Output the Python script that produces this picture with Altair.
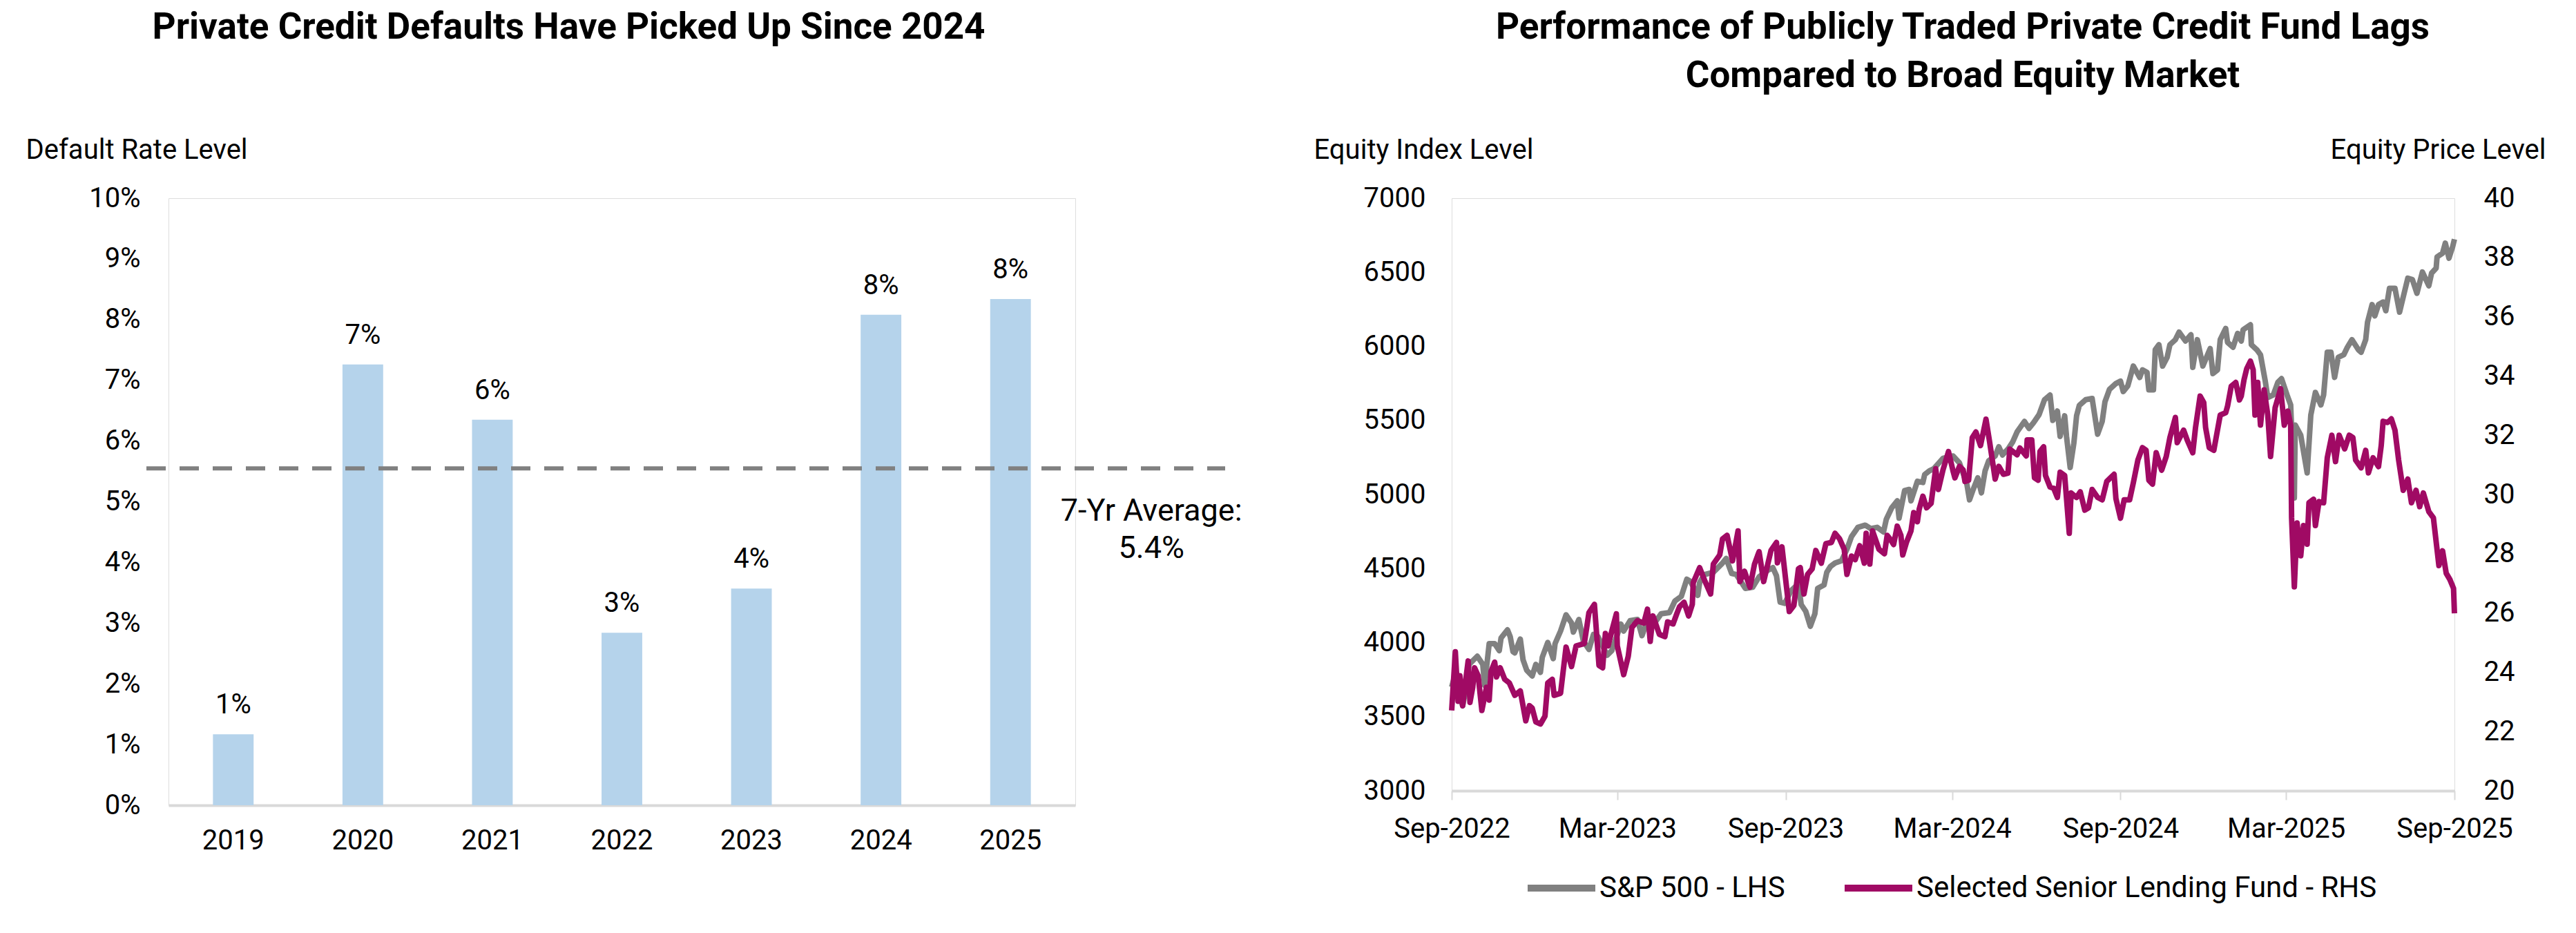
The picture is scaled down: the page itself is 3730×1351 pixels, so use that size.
import altair as alt
import pandas as pd

# ---------------- Left chart data ----------------
years = ["2019", "2020", "2021", "2022", "2023", "2024", "2025"]
default_rates = [1.17, 7.26, 6.35, 2.84, 3.57, 8.08, 8.34]
bar_labels = ["1%", "7%", "6%", "3%", "4%", "8%", "8%"]
avg_line_level = 5.55
avg_label = ["7-Yr Average:", "5.4%"]
rate_ticks = list(range(0, 11))

# ---------------- Right chart data ----------------
start_date = "2022-09-01"
sp_days = [0, 4, 8, 12, 16, 19, 28, 34, 36, 41, 47, 52, 54, 61, 64, 67, 69, 75, 78, 82, 88, 92, 97, 99,
           105, 111, 113, 119, 125, 131, 133, 139, 144, 150, 155, 160, 170, 175, 185, 188, 195, 203,
           208, 213, 220, 229, 238, 244, 251, 257, 261, 269, 271, 276, 286, 296, 300, 306, 311, 321,
           329, 336, 346, 351, 355, 359, 364, 371, 379, 382, 387, 392, 397, 400, 407, 410, 414, 419,
           426, 432, 437, 444, 452, 458, 465, 472, 475, 481, 487, 489, 495, 500, 502, 509, 515, 517,
           522, 527, 537, 548, 555, 563, 566, 570, 575, 579, 583, 587, 594, 598, 602, 608, 613, 618,
           626, 631, 636, 642, 648, 654, 657, 662, 665, 670, 672, 676, 680, 683, 686, 693, 700, 706,
           711, 714, 719, 726, 731, 734, 739, 745, 752, 755, 760, 762, 767, 769, 773, 777, 782, 785,
           791, 795, 802, 808, 810, 815, 821, 829, 832, 837, 840, 846, 848, 854, 859, 863, 865, 873,
           874, 880, 884, 889, 892, 898, 903, 907, 913, 917, 921, 922, 928, 935, 939, 944, 950, 953,
           957, 961, 965, 969, 975, 979, 984, 991, 994, 999, 1001, 1006, 1009, 1013, 1018, 1021, 1025,
           1031, 1036, 1040, 1045, 1050, 1055, 1061, 1068, 1071, 1076, 1077, 1083, 1086, 1090, 1094, 1096]
sp_values = [3700, 3790, 3650, 3573, 3700, 3853, 3908, 3853, 3713, 3993, 3993, 3946, 4032, 4086, 4040,
             3939, 3931, 4024, 3884, 3814, 3775, 3853, 3799, 3900, 4001, 3892, 3993, 4078, 4187, 4133,
             4071, 4156, 4009, 3954, 4055, 4040, 3915, 3946, 4125, 4078, 4148, 4156, 4047, 4133, 4117,
             4195, 4203, 4281, 4312, 4428, 4413, 4319, 4405, 4459, 4475, 4537, 4568, 4467, 4460, 4366,
             4374, 4444, 4490, 4506, 4451, 4273, 4265, 4351, 4397, 4257, 4211, 4110, 4195, 4366, 4389,
             4475, 4514, 4537, 4552, 4630, 4716, 4778, 4793, 4770, 4778, 4747, 4832, 4910, 4957, 4840,
             5026, 5034, 4957, 5089, 5081, 5135, 5159, 5174, 5244, 5260, 5213, 5073, 4964, 5034, 5112,
             5011, 5159, 5228, 5260, 5322, 5267, 5306, 5353, 5423, 5493, 5446, 5485, 5539, 5640, 5671,
             5500, 5563, 5392, 5531, 5392, 5182, 5345, 5531, 5601, 5640, 5648, 5407, 5493, 5625, 5710,
             5749, 5765, 5695, 5733, 5867, 5790, 5841, 5824, 5706, 5706, 5977, 6011, 5867, 5926, 6011,
             6045, 6096, 6036, 6078, 5858, 6045, 5867, 5985, 5816, 5841, 6045, 6121, 6027, 5994, 6087,
             6036, 6112, 6146, 6011, 5977, 5943, 5773, 5655, 5672, 5757, 5782, 5672, 5604, 4977, 5469,
             5400, 5146, 5536, 5689, 5604, 5672, 5960, 5960, 5790, 5926, 5943, 5994, 6045, 5977, 5960,
             6045, 6163, 6282, 6206, 6282, 6299, 6240, 6392, 6392, 6231, 6333, 6460, 6451, 6358, 6502,
             6409, 6494, 6528, 6604, 6629, 6697, 6595, 6672, 6723]

fund_days = [0, 4, 7, 9, 12, 15, 18, 20, 23, 25, 29, 33, 38, 41, 43, 47, 49, 53, 58, 63, 69, 75, 81, 85,
             88, 92, 97, 102, 105, 110, 112, 119, 125, 131, 136, 145, 150, 156, 161, 165, 168, 171, 175,
             180, 181, 188, 193, 197, 203, 210, 214, 217, 220, 227, 233, 236, 242, 246, 249, 254, 259,
             263, 264, 271, 277, 283, 286, 293, 296, 301, 307, 313, 315, 320, 326, 331, 336, 341, 349,
             355, 356, 361, 369, 374, 379, 381, 385, 389, 394, 398, 404, 409, 415, 419, 424, 429, 432,
             437, 441, 446, 451, 453, 457, 460, 467, 473, 476, 480, 483, 487, 491, 493, 497, 502, 505,
             509, 511, 515, 519, 524, 529, 532, 537, 543, 548, 550, 555, 559, 561, 565, 569, 573, 578,
             584, 588, 594, 598, 603, 608, 610, 618, 621, 628, 629, 634, 637, 641, 643, 647, 649, 654,
             658, 662, 665, 670, 675, 677, 683, 687, 692, 696, 700, 706, 711, 716, 720, 724, 726, 731,
             735, 741, 745, 750, 755, 759, 762, 766, 770, 776, 781, 785, 791, 793, 800, 804, 810, 813,
             818, 822, 824, 828, 833, 837, 840, 846, 848, 852, 857, 861, 863, 866, 869, 873, 876, 878,
             881, 884, 888, 892, 895, 900, 906, 910, 914, 917, 918, 921, 924, 928, 931, 935, 937, 942,
             944, 948, 953, 957, 962, 966, 970, 976, 981, 985, 988, 994, 999, 1002, 1007, 1013, 1016,
             1018, 1023, 1027, 1031, 1035, 1040, 1045, 1049, 1054, 1058, 1062, 1068, 1073, 1079, 1083,
             1087, 1091, 1095, 1096]
fund_values = [22.71, 24.69, 23.02, 23.88, 22.87, 23.64, 24.38, 22.98, 23.49, 24.15, 23.88, 22.71, 23.49,
               23.06, 24.03, 24.34, 23.84, 24.15, 23.76, 23.64, 23.22, 23.37, 22.36, 22.87, 22.79, 22.32,
               22.25, 22.52, 23.64, 23.76, 23.22, 23.29, 24.85, 24.19, 24.89, 24.97, 26.01, 26.29, 24.23,
               24.15, 25.31, 24.89, 25.39, 25.97, 24.89, 23.92, 24.54, 25.51, 25.74, 25.66, 26.13, 25.04,
               25.90, 25.28, 25.20, 25.70, 25.63, 25.97, 26.21, 26.36, 25.90, 26.29, 27.02, 27.53, 27.06,
               26.64, 27.65, 27.96, 28.50, 28.62, 27.76, 28.77, 27.06, 27.41, 26.87, 27.65, 28.07, 27.06,
               28.11, 28.38, 27.69, 28.23, 26.05, 26.25, 27.49, 27.53, 26.64, 27.30, 27.49, 28.11, 27.68,
               28.34, 28.38, 28.69, 28.50, 28.15, 27.30, 27.92, 27.80, 28.27, 27.68, 28.69, 27.65, 28.77,
               28.15, 28.00, 28.62, 28.46, 28.31, 28.93, 28.62, 27.96, 28.38, 28.77, 29.39, 29.08, 29.51,
               29.94, 29.55, 29.70, 30.87, 30.17, 30.83, 31.45, 30.79, 30.56, 30.95, 30.83, 30.44, 30.48,
               31.92, 32.11, 31.65, 32.54, 31.76, 30.52, 30.95, 30.68, 30.72, 31.53, 31.34, 31.57, 31.30,
               31.84, 31.84, 30.56, 30.48, 31.45, 31.61, 30.64, 30.25, 30.21, 29.90, 30.75, 30.64, 28.69,
               30.05, 29.90, 30.09, 29.47, 29.55, 30.17, 29.90, 29.82, 30.44, 30.56, 30.68, 29.86, 29.20,
               29.82, 29.82, 30.39, 31.16, 31.58, 31.49, 30.48, 30.35, 31.41, 30.82, 31.28, 31.92, 32.60,
               31.75, 32.17, 31.83, 31.41, 32.26, 33.32, 33.10, 32.26, 31.58, 31.49, 32.17, 32.68, 32.76,
               32.98, 33.65, 33.78, 33.19, 33.32, 33.87, 34.25, 34.50, 34.21, 32.68, 33.78, 32.34, 33.53,
               32.68, 31.28, 32.93, 33.57, 32.34, 32.81, 32.34, 29.21, 26.88, 29.04, 27.93, 28.95, 28.32,
               29.72, 29.84, 28.95, 29.76, 29.72, 31.24, 32.00, 31.11, 32.00, 31.54, 32.00, 31.92, 31.16,
               30.90, 31.49, 30.73, 31.24, 30.94, 31.66, 32.47, 32.43, 32.55, 32.17, 31.16, 30.14, 30.52,
               29.72, 30.14, 29.59, 30.05, 29.42, 29.21, 27.60, 28.10, 27.34, 27.13, 26.83, 25.99]

series_names = ["S&P 500 - LHS", "Selected Senior Lending Fund - RHS"]
series_colors = ["#808080", "#a00a64"]
sp_ticks = list(range(3000, 7001, 500))
fund_ticks = list(range(20, 41, 2))
date_ticks = [(2022, 9), (2023, 3), (2023, 9), (2024, 3), (2024, 9), (2025, 3), (2025, 9)]

FONT = "Roboto"

# ---------------- Build frames ----------------
bars_df = pd.DataFrame({"year": years, "rate": default_rates, "label": bar_labels})
avg_df = pd.DataFrame({"year": ["2025"], "rate": [avg_line_level]})

t0 = pd.Timestamp(start_date)
sp_df = pd.DataFrame({
    "date": t0 + pd.to_timedelta(sp_days, unit="D"),
    "value": sp_values,
    "series": series_names[0],
})
fund_df = pd.DataFrame({
    "date": t0 + pd.to_timedelta(fund_days, unit="D"),
    "value": fund_values,
    "series": series_names[1],
})

# ---------------- Left chart ----------------
xband = alt.X(
    "year:N",
    sort=years,
    scale=alt.Scale(paddingInner=0.686, paddingOuter=0.343),
    axis=alt.Axis(title=None, labelAngle=0, ticks=False, tickSize=0, domainColor="#d9d9d9",
                  domainWidth=4, labelPadding=31, labelFontSize=40, labelColor="black",
                  labelFont=FONT, grid=False),
)
yrate = alt.Y(
    "rate:Q",
    scale=alt.Scale(domain=[0, 10]),
    axis=alt.Axis(values=rate_ticks, labelExpr="datum.value + '%'", grid=False, ticks=False,
                  tickSize=0, domain=False, labelPadding=41, labelFontSize=40, labelColor="black",
                  labelFont=FONT, title="Default Rate Level", titleAngle=0, titleAlign="left",
                  titleBaseline="alphabetic", titleX=-207, titleY=-58, titleFontSize=40,
                  titleFontWeight="normal", titleColor="black", titleFont=FONT),
)

bars = alt.Chart(bars_df).mark_bar(color="#b5d3eb").encode(x=xband, y=yrate)
bar_text = alt.Chart(bars_df).mark_text(
    baseline="alphabetic", dy=-30, fontSize=40, font=FONT, color="black"
).encode(x=alt.X("year:N", sort=years), y="rate:Q", text="label:N")
avg_rule = alt.Chart(avg_df).mark_rule(
    color="#808080", strokeWidth=6, strokeDash=[28, 20]
).encode(y="rate:Q", x=alt.value(-32), x2=alt.value(1530))
avg_text = alt.Chart(avg_df).mark_text(
    align="center", baseline="alphabetic", dx=204, dy=76, fontSize=45, lineHeight=54,
    font=FONT, color="black"
).encode(x=alt.X("year:N", sort=years), y="rate:Q", text=alt.value(avg_label))

left = alt.layer(bars, bar_text, avg_rule, avg_text).properties(
    width=1313, height=879,
    title=alt.TitleParams(text="Private Credit Defaults Have Picked Up Since 2024", fontSize=53,
                          fontWeight="bold", font=FONT, color="black", anchor="middle",
                          frame="group", dx=-77, offset=130),
)

# ---------------- Right chart ----------------
xdate = alt.X(
    "date:T",
    scale=alt.Scale(domain=[alt.DateTime(year=2022, month=9, date=1),
                            alt.DateTime(year=2025, month=9, date=1)]),
    axis=alt.Axis(values=[alt.DateTime(year=y, month=m, date=1) for y, m in date_ticks],
                  format="%b-%Y", title=None, grid=False, labelAngle=0, labelFlush=False,
                  labelOverlap=False, labelBound=False, tickSize=13, tickColor="#d9d9d9",
                  tickWidth=2, domainColor="#d9d9d9", domainWidth=4, labelPadding=22,
                  labelFontSize=40, labelColor="black", labelFont=FONT),
)
color = alt.Color(
    "series:N",
    scale=alt.Scale(domain=series_names, range=series_colors),
    legend=alt.Legend(title=None, orient="none", legendX=105, legendY=945, direction="horizontal",
                      symbolType="stroke", symbolStrokeWidth=10, symbolSize=9604,
                      labelFontSize=42, labelFont=FONT, labelColor="black", labelOffset=1,
                      columnPadding=66, labelLimit=0),
)

sp_line = alt.Chart(sp_df).mark_line(strokeWidth=8, strokeJoin="round").encode(
    x=xdate,
    y=alt.Y("value:Q", scale=alt.Scale(domain=[3000, 7000]),
            axis=alt.Axis(values=sp_ticks, format="d", orient="left", grid=False, ticks=False,
                          tickSize=0, domain=False, labelPadding=38, labelFontSize=40,
                          labelColor="black", labelFont=FONT, title="Equity Index Level",
                          titleAngle=0, titleAlign="left", titleBaseline="alphabetic",
                          titleX=-200, titleY=-58, titleFontSize=40, titleFontWeight="normal",
                          titleColor="black", titleFont=FONT)),
    color=color,
)
fund_line = alt.Chart(fund_df).mark_line(strokeWidth=8, strokeJoin="round").encode(
    x=xdate,
    y=alt.Y("value:Q", scale=alt.Scale(domain=[20, 40]),
            axis=alt.Axis(values=fund_ticks, format="d", orient="right", grid=False, ticks=False,
                          tickSize=0, domain=False, labelPadding=42, labelFontSize=40,
                          labelColor="black", labelFont=FONT, title="Equity Price Level",
                          titleAngle=0, titleAlign="right", titleBaseline="alphabetic",
                          titleX=132, titleY=-58, titleFontSize=40, titleFontWeight="normal",
                          titleColor="black", titleFont=FONT)),
    color=color,
)

right = alt.layer(sp_line, fund_line).resolve_scale(y="independent").properties(
    width=1452, height=858,
    title=alt.TitleParams(text=["Performance of Publicly Traded Private Credit Fund Lags",
                                "Compared to Broad Equity Market"], fontSize=53,
                          fontWeight="bold", font=FONT, color="black", anchor="middle",
                          frame="group", dx=14, offset=60, lineHeight=70),
)

chart = alt.hconcat(left, right, spacing=101).resolve_scale(
    color="independent"
).resolve_legend(color="independent").properties(
    padding={"left": 28, "top": 5, "right": 5, "bottom": 5},
    background="white",
).configure_view(stroke=None).configure(font=FONT)

chart.save("out.html", embed_options={"renderer": "svg", "actions": False})
